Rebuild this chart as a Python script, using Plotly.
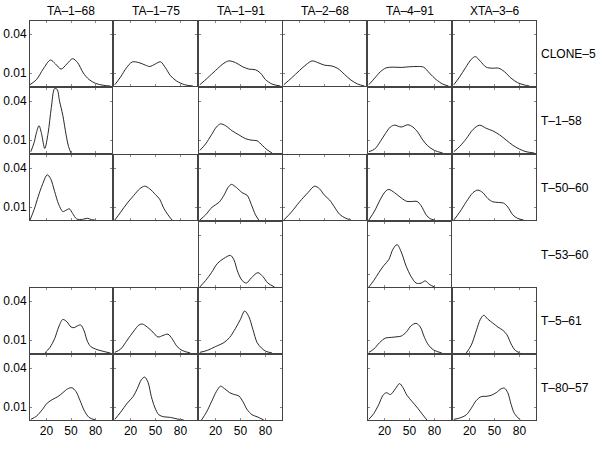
import plotly.graph_objects as go

# ---- labels ----
columns = ['TA–1–68', 'TA–1–75', 'TA–1–91', 'TA–2–68', 'TA–4–91', 'XTA–3–6']
rows = ['CLONE–5', 'T–1–58', 'T–50–60', 'T–53–60', 'T–5–61', 'T–80–57']
x_ticks = [20, 50, 80]
y_ticks = [0.01, 0.04]
y_tick_text = ['0.01', '0.04']

# ---- CLONE-5 ----
c5_a_x = [0, 8, 16, 25, 31, 38, 45, 52, 58, 65, 72, 80, 90, 98]
c5_a_y = [0.001, 0.005, 0.013, 0.020, 0.017, 0.013, 0.017, 0.021, 0.018, 0.010, 0.005, 0.002, 0.0005, 0]
c5_b_x = [1, 8, 15, 22, 30, 38, 43, 50, 56, 62, 68, 75, 85, 95]
c5_b_y = [0.001, 0.007, 0.014, 0.0185, 0.018, 0.016, 0.015, 0.017, 0.0186, 0.014, 0.008, 0.004, 0.001, 0]
c5_c_x = [1, 10, 20, 30, 36, 44, 52, 60, 68, 74, 80, 88, 98]
c5_c_y = [0.001, 0.006, 0.012, 0.0175, 0.0193, 0.018, 0.015, 0.013, 0.0125, 0.010, 0.005, 0.0015, 0]
c5_d_x = [1, 10, 20, 28, 35, 42, 50, 58, 66, 74, 82, 90, 98]
c5_d_y = [0.001, 0.006, 0.012, 0.0165, 0.0193, 0.018, 0.016, 0.0155, 0.0135, 0.009, 0.0045, 0.0015, 0]
c5_e_x = [1, 8, 15, 22, 30, 40, 50, 60, 67, 74, 82, 90, 97]
c5_e_y = [0.001, 0.006, 0.011, 0.014, 0.0145, 0.0143, 0.0148, 0.015, 0.0145, 0.010, 0.005, 0.0015, 0]
c5_f_x = [1, 8, 15, 22, 27, 33, 40, 47, 55, 62, 70, 78, 86, 92]
c5_f_y = [0.001, 0.007, 0.014, 0.0205, 0.0226, 0.019, 0.0145, 0.0137, 0.0137, 0.011, 0.006, 0.0025, 0.0008, 0]

# ---- T-1-58 ----
t158_a_x = [1, 5, 8, 11, 14, 18, 22, 26, 30, 33, 36, 40, 44, 47, 50]
t158_a_y = [0.001, 0.008, 0.016, 0.021, 0.015, 0.0035, 0.015, 0.035, 0.0495, 0.049, 0.040, 0.029, 0.014, 0.005, 0]
t158_c_x = [1, 8, 15, 21, 26, 32, 40, 48, 56, 64, 70, 76, 82, 88]
t158_c_y = [0.002, 0.007, 0.014, 0.020, 0.0224, 0.021, 0.017, 0.014, 0.011, 0.0098, 0.0094, 0.006, 0.0025, 0]
t158_e_x = [1, 8, 15, 21, 27, 32, 40, 48, 54, 60, 66, 72, 80, 90]
t158_e_y = [0.001, 0.003, 0.009, 0.015, 0.020, 0.0214, 0.020, 0.0217, 0.020, 0.016, 0.010, 0.0055, 0.002, 0]
t158_f_x = [1, 8, 16, 24, 32, 40, 48, 56, 64, 72, 80, 88, 98]
t158_f_y = [0.001, 0.005, 0.011, 0.018, 0.0214, 0.019, 0.017, 0.014, 0.010, 0.006, 0.003, 0.001, 0]

# ---- T-50-60 ----
t5060_a_x = [0, 5, 10, 15, 21, 25, 30, 35, 40, 44, 48, 52, 57, 64, 70, 75, 79]
t5060_a_y = [0, 0.008, 0.018, 0.027, 0.0347, 0.032, 0.022, 0.012, 0.0065, 0.0075, 0.0086, 0.005, 0.0008, 0.0005, 0.0013, 0.0003, 0]
t5060_b_x = [1, 8, 16, 24, 31, 37, 43, 50, 55, 60, 65, 70]
t5060_b_y = [0, 0.006, 0.013, 0.019, 0.024, 0.026, 0.024, 0.0195, 0.016, 0.009, 0.004, 0]
t5060_c_x = [1, 8, 16, 24, 30, 35, 39, 45, 52, 58, 63, 68, 72]
t5060_c_y = [0, 0.004, 0.010, 0.0135, 0.019, 0.025, 0.0274, 0.025, 0.021, 0.019, 0.012, 0.004, 0]
t5060_d_x = [1, 10, 20, 30, 38, 44, 50, 56, 62, 68, 75, 82]
t5060_d_y = [0, 0.006, 0.014, 0.021, 0.026, 0.024, 0.019, 0.0155, 0.010, 0.0045, 0.0015, 0]
t5060_e_x = [1, 8, 15, 21, 25, 32, 40, 47, 54, 59, 64, 70, 75, 80]
t5060_e_y = [0, 0.007, 0.016, 0.022, 0.0235, 0.021, 0.017, 0.0143, 0.0143, 0.0143, 0.011, 0.004, 0.001, 0]
t5060_f_x = [1, 8, 16, 24, 30, 36, 42, 48, 55, 61, 66, 72, 78, 85]
t5060_f_y = [0, 0.006, 0.014, 0.021, 0.023, 0.021, 0.0165, 0.014, 0.0135, 0.013, 0.010, 0.004, 0.0012, 0]

# ---- T-53-60 ----
t5360_c_x = [1, 8, 15, 22, 30, 38, 42, 47, 52, 57, 63, 71, 77, 83, 91]
t5360_c_y = [0, 0.005, 0.011, 0.018, 0.022, 0.0243, 0.021, 0.011, 0.005, 0.003, 0.007, 0.011, 0.008, 0.003, 0]
t5360_e_x = [1, 7, 13, 19, 25, 30, 35, 40, 46, 52, 58, 64, 69, 74, 80]
t5360_e_y = [0, 0.005, 0.011, 0.0165, 0.021, 0.029, 0.0326, 0.027, 0.016, 0.008, 0.003, 0.003, 0.0047, 0.002, 0]

# ---- T-5-61 ----
t561_a_x = [18, 24, 30, 35, 40, 45, 50, 54, 58, 62, 66, 70, 74, 80, 88, 98]
t561_a_y = [0, 0.004, 0.011, 0.020, 0.0258, 0.024, 0.020, 0.0195, 0.021, 0.0215, 0.017, 0.009, 0.005, 0.003, 0.0015, 0]
t561_b_x = [1, 8, 16, 24, 30, 34, 40, 47, 53, 59, 65, 70, 76, 82, 92]
t561_b_y = [0.0005, 0.003, 0.010, 0.017, 0.0215, 0.0223, 0.020, 0.016, 0.0123, 0.0135, 0.0145, 0.011, 0.005, 0.002, 0]
t561_c_x = [1, 10, 20, 30, 37, 44, 50, 55, 60, 65, 70, 75, 80, 88]
t561_c_y = [0.0005, 0.002, 0.005, 0.008, 0.012, 0.019, 0.026, 0.0323, 0.028, 0.018, 0.008, 0.004, 0.0015, 0]
t561_e_x = [1, 7, 14, 21, 28, 35, 40, 46, 52, 58, 63, 68, 73, 79, 89]
t561_e_y = [0.0005, 0.003, 0.008, 0.0115, 0.012, 0.0125, 0.013, 0.016, 0.021, 0.0228, 0.020, 0.012, 0.006, 0.0023, 0]
t561_f_x = [16, 22, 28, 33, 37, 42, 48, 54, 60, 65, 70, 75, 81]
t561_f_y = [0, 0.006, 0.017, 0.026, 0.029, 0.026, 0.023, 0.020, 0.0175, 0.014, 0.007, 0.002, 0]

# ---- T-80-57 ----
t8057_a_x = [1, 8, 15, 21, 28, 34, 40, 46, 51, 56, 61, 66, 72, 80]
t8057_a_y = [0.0005, 0.003, 0.008, 0.013, 0.016, 0.018, 0.021, 0.024, 0.0248, 0.022, 0.015, 0.0075, 0.002, 0]
t8057_b_x = [1, 8, 16, 23, 28, 33, 37, 41, 45, 49, 54, 60, 68, 76, 84]
t8057_b_y = [0.0005, 0.006, 0.013, 0.018, 0.024, 0.031, 0.033, 0.029, 0.018, 0.010, 0.004, 0.0025, 0.002, 0.0008, 0]
t8057_c_x = [3, 9, 15, 21, 26, 31, 37, 43, 48, 53, 58, 64, 70, 78]
t8057_c_y = [0, 0.006, 0.014, 0.022, 0.026, 0.024, 0.021, 0.0195, 0.0185, 0.014, 0.008, 0.004, 0.0025, 0]
t8057_e_x = [1, 7, 13, 18, 22, 27, 33, 38, 42, 47, 53, 60, 66, 71]
t8057_e_y = [0.0005, 0.005, 0.012, 0.019, 0.021, 0.0196, 0.024, 0.028, 0.025, 0.019, 0.0143, 0.009, 0.004, 0]
t8057_f_x = [1, 8, 16, 22, 28, 34, 40, 46, 52, 58, 62, 66, 70, 74, 81]
t8057_f_y = [0.0005, 0.0015, 0.004, 0.009, 0.015, 0.018, 0.0182, 0.019, 0.021, 0.024, 0.0245, 0.021, 0.012, 0.005, 0]

# (row, column, x, y) for every panel that exists
panels = [
    (0, 0, c5_a_x, c5_a_y), (0, 1, c5_b_x, c5_b_y), (0, 2, c5_c_x, c5_c_y),
    (0, 3, c5_d_x, c5_d_y), (0, 4, c5_e_x, c5_e_y), (0, 5, c5_f_x, c5_f_y),
    (1, 0, t158_a_x, t158_a_y), (1, 2, t158_c_x, t158_c_y),
    (1, 4, t158_e_x, t158_e_y), (1, 5, t158_f_x, t158_f_y),
    (2, 0, t5060_a_x, t5060_a_y), (2, 1, t5060_b_x, t5060_b_y), (2, 2, t5060_c_x, t5060_c_y),
    (2, 3, t5060_d_x, t5060_d_y), (2, 4, t5060_e_x, t5060_e_y), (2, 5, t5060_f_x, t5060_f_y),
    (3, 2, t5360_c_x, t5360_c_y), (3, 4, t5360_e_x, t5360_e_y),
    (4, 0, t561_a_x, t561_a_y), (4, 1, t561_b_x, t561_b_y), (4, 2, t561_c_x, t561_c_y),
    (4, 4, t561_e_x, t561_e_y), (4, 5, t561_f_x, t561_f_y),
    (5, 0, t8057_a_x, t8057_a_y), (5, 1, t8057_b_x, t8057_b_y), (5, 2, t8057_c_x, t8057_c_y),
    (5, 4, t8057_e_x, t8057_e_y), (5, 5, t8057_f_x, t8057_f_y),
]

W, H = 600, 449
col_px = [(30, 112), (114, 197), (199, 282), (283, 366), (368, 451), (453, 536)]
row_px = [(21, 86), (88, 153), (155, 220), (222, 287), (288, 353), (355, 420)]
FONT = 'Liberation Sans, Arial, sans-serif'

fig = go.Figure()
layout_axes = {}
for i, (r, c, xs, ys) in enumerate(panels, start=1):
    sfx = '' if i == 1 else str(i)
    fig.add_trace(go.Scatter(
        x=xs, y=ys, xaxis='x' + sfx, yaxis='y' + sfx, mode='lines',
        line=dict(color='#111', width=0.9, shape='spline', smoothing=0.9),
        showlegend=False, hoverinfo='skip',
    ))
    x0, x1 = col_px[c]
    t, b = row_px[r]
    common = dict(showline=True, linecolor='#444', linewidth=1, mirror='ticks',
                  ticks='inside', ticklen=2, tickcolor='#888', showgrid=False,
                  zeroline=False, fixedrange=True,
                  tickfont=dict(family=FONT, size=12, color='black'))
    layout_axes['xaxis' + sfx] = dict(
        common, domain=[x0 / W, x1 / W], range=[0, 100], anchor='y' + sfx,
        tickvals=x_ticks, showticklabels=(r == 5))
    layout_axes['yaxis' + sfx] = dict(
        common, domain=[1 - b / H, 1 - t / H], range=[0, 0.05], anchor='x' + sfx,
        tickvals=y_ticks, ticktext=y_tick_text, showticklabels=(c == 0))

annotations = []
for c, name in enumerate(columns):
    x0, x1 = col_px[c]
    annotations.append(dict(text=name, x=(x0 + x1) / 2 / W, y=1 - 11 / H,
                            xref='paper', yref='paper', showarrow=False,
                            xanchor='center', yanchor='middle',
                            font=dict(family=FONT, size=12, color='black')))
for r, name in enumerate(rows):
    t, b = row_px[r]
    annotations.append(dict(text=name, x=539 / W, y=1 - (t + b) / 2 / H,
                            xref='paper', yref='paper', showarrow=False,
                            xanchor='left', yanchor='middle',
                            font=dict(family=FONT, size=12, color='black')))

fig.update_layout(
    width=W, height=H, margin=dict(l=0, r=0, t=0, b=0),
    paper_bgcolor='white', plot_bgcolor='white',
    annotations=annotations, **layout_axes,
)

# drop the browser's default body margin so the figure sits at the page corner
fig.write_html('out.html', config={'displayModeBar': False},
               post_script="document.body.style.margin='0';"
                           "document.body.style.overflow='hidden';")
